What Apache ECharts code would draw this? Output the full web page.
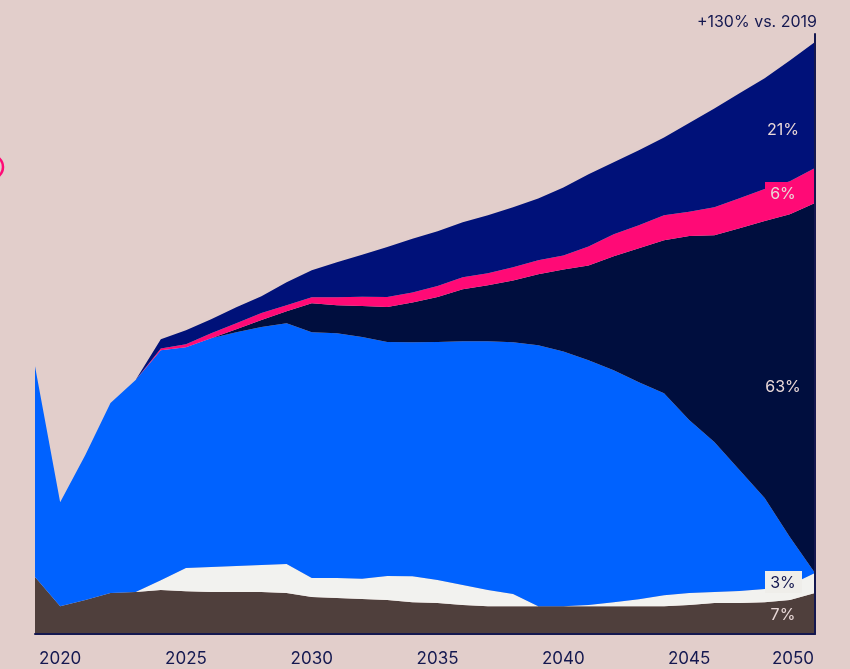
<!DOCTYPE html>
<html><head><meta charset="utf-8">
<script src="https://cdn.jsdelivr.net/npm/echarts@6/dist/echarts.min.js"></script>
<style>html,body{margin:0;padding:0;background:#e2cecb;}#c{width:850px;height:669px;}</style>
</head><body><div id="c"></div>
<script>
const years = ['2019','2020','2021','2022','2023','2024','2025','2026','2027','2028','2029','2030','2031','2032','2033','2034','2035','2036','2037','2038','2039','2040','2041','2042','2043','2044','2045','2046','2047','2048','2049','2050'];
// index: 2019 total demand = 100
const brown = [21.3,10.4,12.7,15.3,15.7,16.4,16.0,15.7,15.7,15.7,15.3,13.8,13.4,13.1,12.7,11.9,11.6,10.8,10.4,10.4,10.4,10.4,10.4,10.4,10.4,10.4,10.8,11.6,11.6,11.9,12.7,15.3];
const white = [0,0,0,0,0,3.7,8.6,9.3,9.7,10.1,10.8,7.1,7.5,7.5,9.0,9.7,8.6,7.5,6.0,4.5,0,0,0.4,1.5,2.6,4.1,4.5,4.1,4.5,4.9,5.6,7.5];
const blue = [78.7,38.8,54.1,70.9,79.1,85.8,82.5,85.4,87.3,88.8,89.9,91.8,91.4,90.3,87.3,87.3,88.8,91.0,92.9,94.0,97.4,95.1,91.4,86.6,81.0,75.4,64.6,56.0,45.1,34.0,17.9,0];
const darkNavy = [0,0,0,0,0,0,0,0,1.1,2.6,4.5,10.8,10.4,11.6,13.1,14.9,16.8,19.4,20.9,23.1,26.5,30.6,35.4,42.5,50.0,57.1,68.7,77.2,90.3,103.4,120.5,138.1];
const pink = [0,0,0,0,0,0.7,1.1,1.9,2.2,2.6,2.2,2.2,3.0,3.4,3.7,3.7,4.1,4.5,4.5,4.9,5.2,5.2,7.1,8.2,8.6,9.3,9.0,10.4,11.2,11.9,12.3,13.1];
const navy = [0,0,0,0,0,3.4,5.2,5.2,6.0,6.3,8.6,10.1,13.1,15.7,18.7,20.1,20.5,20.5,21.6,22.4,23.1,25.4,26.9,26.9,28.0,29.1,33.2,36.9,39.2,41.4,45.1,47.0];
const shareLabels = ['7%','3%','63%','6%','21%'];
const headline = '+130% vs. 2019';

const colors = ['#4f3f3c','#f2f2ef','#0062ff','#000e3e','#ff0a76','#001179'];
const layers = [brown, white, blue, darkNavy, pink, navy];
const AX = '#141850';
const FONT = 'Inter';

const chart = echarts.init(document.getElementById('c'), null, {renderer:'canvas'});
const series = layers.map((d,i)=>({
  type:'line', stack:'total', data:d, symbol:'none', smooth:false,
  lineStyle:{width:0}, areaStyle:{color:colors[i], opacity:1}, z:2
}));
const lx = 783;
const light = '#ead9d8';
const txt = (x,y,t,fill,size,align)=>({type:'text', x, y, z:100, style:{text:t, fill, font:size+'px '+FONT, align:align||'center', verticalAlign:'middle'}});
chart.setOption({
  backgroundColor:'#e2cecb',
  animation:false,
  grid:{left:35, right:35, top:34, bottom:35},
  xAxis:{type:'category', data:years, boundaryGap:false, z:10,
    axisLine:{lineStyle:{color:AX, width:2}},
    axisTick:{show:false},
    axisLabel:{interval:(i,v)=>(+v)%5===0, margin:16, color:AX, fontSize:17, fontFamily:FONT,
      formatter:v=> v==='2050' ? '{e|2050}' : v,
      rich:{e:{color:AX, fontSize:17, fontFamily:FONT, padding:[0,44,0,0]}}}},
  yAxis:{type:'value', min:0, max:224, position:'right', z:10,
    axisLine:{show:true, lineStyle:{color:AX, width:2}},
    axisTick:{show:false}, axisLabel:{show:false}, splitLine:{show:false}},
  series,
  graphic:[
    {type:'circle', z:100, shape:{cx:-9, cy:167, r:12}, style:{fill:'none', stroke:'#ff0a76', lineWidth:2.5}},
    txt(817,22,headline,AX,16,'right'),
    txt(lx,130,shareLabels[4],light,16),
    {type:'rect', z:99, shape:{x:765, y:182, width:32, height:23}, style:{fill:'#ff0a76'}},
    txt(lx,194,shareLabels[3],light,16),
    txt(lx,387,shareLabels[2],light,16),
    {type:'rect', z:99, shape:{x:765, y:571, width:37, height:22}, style:{fill:'#efeeea'}},
    txt(lx,583,shareLabels[1],AX,16),
    txt(lx,615,shareLabels[0],light,16)
  ]
});
</script></body></html>
